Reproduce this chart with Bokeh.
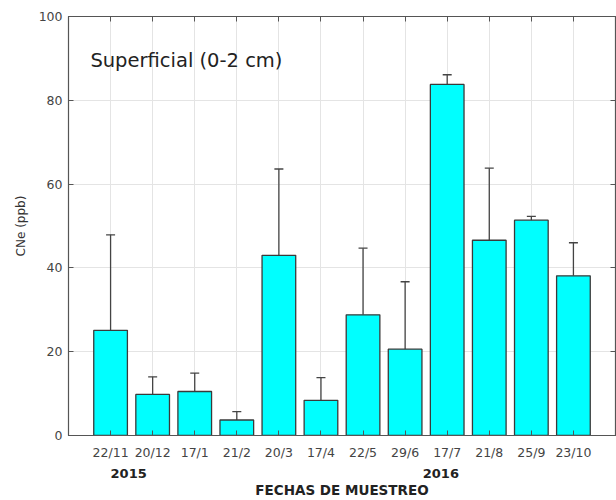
from bokeh.plotting import figure
from bokeh.models import (Range1d, FixedTicker, LinearAxis, Label, Whisker,
                          ColumnDataSource, TeeHead)
from bokeh.embed import file_html
from bokeh.resources import INLINE

dates = ["22/11", "20/12", "17/1", "21/2", "20/3", "17/4", "22/5", "29/6",
         "17/7", "21/8", "25/9", "23/10"]
means = [25.1, 9.8, 10.5, 3.7, 43.0, 8.4, 28.8, 20.6, 83.8, 46.6, 51.4, 38.1]
upper = [47.9, 14.0, 14.9, 5.7, 63.6, 13.8, 44.7, 36.7, 86.1, 63.8, 52.3, 46.0]
years = ["2015", "2016"]
year_pos = [1.43, 8.85]
y_ticks = [0, 20, 40, 60, 80, 100]

FONT = "DejaVu Sans"
xs = list(range(1, len(dates) + 1))
src = ColumnDataSource(dict(x=xs, top=means, up=upper))

p = figure(width=616, height=500, output_backend="svg", toolbar_location=None,
           x_range=Range1d(0, 13), y_range=Range1d(0, 100),
           min_border_left=68, min_border_top=16, min_border_right=1,
           min_border_bottom=65)
p.outline_line_color = "#555555"
p.outline_line_width = 1.2

p.vbar(x="x", top="top", width=0.8, bottom=0, source=src,
       fill_color="#00FFFF", line_color="#3a3a3a", line_width=1.3)

w = Whisker(source=src, base="x", lower="top", upper="up",
            line_color="#444444", line_width=1.3,
            upper_head=TeeHead(size=9, line_color="#444444", line_width=1.3),
            lower_head=None)
p.add_layout(w)

p.xaxis.ticker = FixedTicker(ticks=xs)
p.xaxis.major_label_overrides = {i: d for i, d in zip(xs, dates)}
p.yaxis.ticker = FixedTicker(ticks=y_ticks)

for ax in [p.xaxis[0], p.yaxis[0]]:
    ax.major_tick_in = 5
    ax.major_tick_out = 0
    ax.minor_tick_in = 0
    ax.minor_tick_out = 0
    ax.axis_line_color = "#555555"
    ax.major_tick_line_color = "#555555"
    ax.major_label_text_font = FONT
    ax.major_label_text_font_size = "12.5px"
    ax.major_label_text_color = "#444444"

p.xaxis.major_label_standoff = 9
p.yaxis.major_label_standoff = 6
p.yaxis.axis_label = "CNe (ppb)"
p.yaxis.axis_label_text_font = FONT
p.yaxis.axis_label_text_font_size = "12px"
p.yaxis.axis_label_text_font_style = "normal"
p.yaxis.axis_label_text_color = "#333333"
p.yaxis.axis_label_standoff = 8

# second bottom axis: years + axis title
year_ax = LinearAxis(ticker=FixedTicker(ticks=year_pos))
year_ax.major_label_overrides = {xp: yr for xp, yr in zip(year_pos, years)}
year_ax.major_tick_in = 0
year_ax.major_tick_out = 0
year_ax.minor_tick_in = 0
year_ax.minor_tick_out = 0
year_ax.axis_line_color = None
year_ax.major_label_standoff = 6
year_ax.major_label_text_font = FONT
year_ax.major_label_text_font_size = "13px"
year_ax.major_label_text_font_style = "bold"
year_ax.major_label_text_color = "#222222"
year_ax.axis_label = "FECHAS DE MUESTREO"
year_ax.axis_label_text_font = FONT
year_ax.axis_label_text_font_size = "13.5px"
year_ax.axis_label_text_font_style = "bold"
year_ax.axis_label_text_color = "#222222"
year_ax.axis_label_standoff = 1
p.add_layout(year_ax, "below")

# mirrored axes (ticks only)
top_ax = LinearAxis(ticker=FixedTicker(ticks=xs))
top_ax.major_label_overrides = {i: "" for i in xs}
right_ax = LinearAxis(ticker=FixedTicker(ticks=y_ticks))
right_ax.major_label_overrides = {i: "" for i in y_ticks}
for ax in [top_ax, right_ax]:
    ax.major_tick_in = 5
    ax.major_tick_out = 0
    ax.minor_tick_in = 0
    ax.minor_tick_out = 0
    ax.major_label_standoff = 0
    ax.axis_line_color = "#555555"
    ax.major_tick_line_color = "#555555"
p.add_layout(top_ax, "above")
p.add_layout(right_ax, "right")

p.xgrid.ticker = FixedTicker(ticks=xs)
p.ygrid.ticker = FixedTicker(ticks=y_ticks)
p.grid.grid_line_color = "#e4e4e4"
p.grid.grid_line_width = 1

p.add_layout(Label(x=0.52, y=89.5, text="Superficial (0-2 cm)",
                   text_font=FONT, text_font_size="19.5px",
                   text_color="#222222", text_baseline="middle"))

open("out.html", "w").write(file_html(p, INLINE))
